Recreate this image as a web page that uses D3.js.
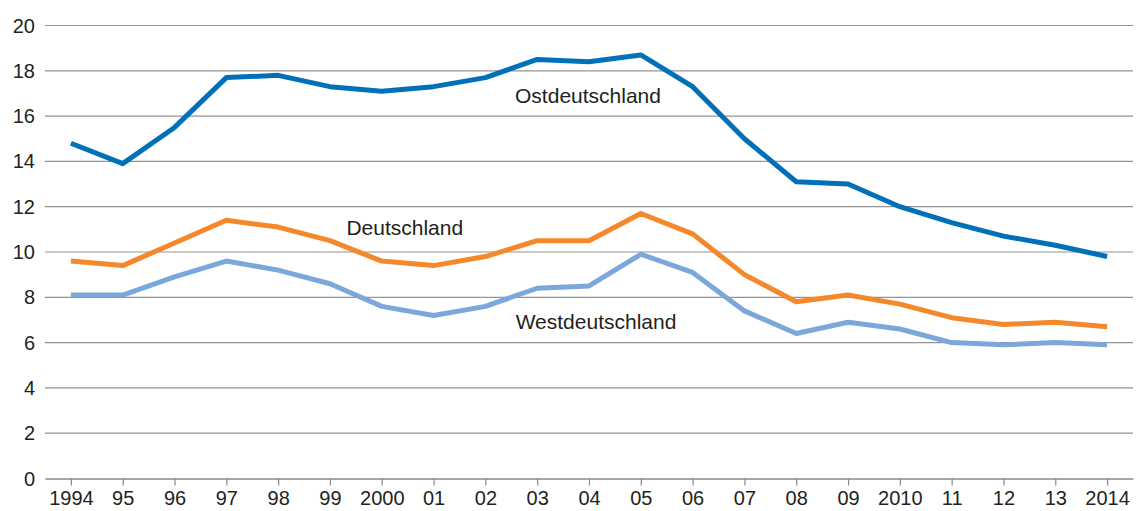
<!DOCTYPE html>
<html>
<head>
<meta charset="utf-8">
<script src="https://cdn.jsdelivr.net/npm/d3@7"></script>
<style>
  body { margin: 0; background: #fff; }
  svg text { font-family: "Liberation Sans", Arial, sans-serif; fill: #231f20; }
</style>
</head>
<body>
<div id="chart"></div>
<script>
// Data
const years = ["1994", "95", "96", "97", "98", "99", "2000", "01", "02", "03", "04",
  "05", "06", "07", "08", "09", "2010", "11", "12", "13", "2014"];
const ost = [14.8, 13.9, 15.5, 17.7, 17.8, 17.3, 17.1, 17.3, 17.7, 18.5, 18.4,
  18.7, 17.3, 15.0, 13.1, 13.0, 12.0, 11.3, 10.7, 10.3, 9.8];
const deutschland = [9.6, 9.4, 10.4, 11.4, 11.1, 10.5, 9.6, 9.4, 9.8, 10.5, 10.5,
  11.7, 10.8, 9.0, 7.8, 8.1, 7.7, 7.1, 6.8, 6.9, 6.7];
const west = [8.1, 8.1, 8.9, 9.6, 9.2, 8.6, 7.6, 7.2, 7.6, 8.4, 8.5,
  9.9, 9.1, 7.4, 6.4, 6.9, 6.6, 6.0, 5.9, 6.0, 5.9];
const yTicks = [0, 2, 4, 6, 8, 10, 12, 14, 16, 18, 20];

const series = [
  { name: "Westdeutschland", values: west, color: "#7ba7da", labelYear: "04", labelDx: 7, labelY: 6.6 },
  { name: "Deutschland", values: deutschland, color: "#f4882a", labelYear: "2000", labelDx: 23, labelY: 10.75 },
  { name: "Ostdeutschland", values: ost, color: "#0071b9", labelYear: "04", labelDx: -1, labelY: 16.6 }
];

// Set the dimensions and margins
const margin = { top: 25, right: 4, bottom: 32, left: 45 };
const width = 1137 - margin.left - margin.right;
const height = 511 - margin.top - margin.bottom;

const svg = d3.select("#chart")
  .append("svg")
  .attr("width", width + margin.left + margin.right)
  .attr("height", height + margin.top + margin.bottom)
  .append("g")
  .attr("transform", `translate(${margin.left}, ${margin.top})`);

const x = d3.scalePoint()
  .domain(years)
  .range([0, width])
  .padding(0.5);

const y = d3.scaleLinear()
  .domain([0, 20])
  .range([height - 0.5, 0.5]);

// Gridlines
svg.append("g")
  .selectAll("line")
  .data(yTicks.filter(d => d > 0))
  .enter().append("line")
  .attr("x1", 0)
  .attr("x2", width)
  .attr("y1", d => y(d))
  .attr("y2", d => y(d))
  .attr("stroke", "#949494")
  .attr("stroke-width", 1.2);

// Y axis labels
svg.append("g")
  .selectAll("text")
  .data(yTicks)
  .enter().append("text")
  .attr("x", -10)
  .attr("y", d => y(d))
  .attr("dy", "0.35em")
  .attr("text-anchor", "end")
  .style("font-size", "20px")
  .text(d => d);

// X axis
const xAxis = d3.axisBottom(x)
  .tickSize(7)
  .tickSizeOuter(0)
  .tickPadding(5);
const gx = svg.append("g")
  .attr("transform", `translate(0, ${y(0)})`)
  .call(xAxis);
gx.select(".domain").attr("stroke", "#8a8a8a").attr("stroke-width", 1.5);
gx.selectAll(".tick line").attr("stroke", "#8a8a8a").attr("stroke-width", 1.2);
gx.selectAll(".tick text")
  .style("font-size", "20px")
  .style("font-family", "'Liberation Sans', Arial, sans-serif")
  .attr("fill", "#231f20");

// Lines
const line = d3.line()
  .x((d, i) => x(years[i]))
  .y(d => y(d));

svg.selectAll(".serie")
  .data(series)
  .enter().append("path")
  .attr("class", "serie")
  .attr("fill", "none")
  .attr("stroke", d => d.color)
  .attr("stroke-width", 5)
  .attr("stroke-linejoin", "round")
  .attr("d", d => line(d.values));

// Series labels
svg.selectAll(".label")
  .data(series)
  .enter().append("text")
  .attr("class", "label")
  .attr("x", d => x(d.labelYear) + d.labelDx)
  .attr("y", d => y(d.labelY))
  .attr("text-anchor", "middle")
  .style("font-size", "21px")
  .text(d => d.name);
</script>
</body>
</html>
